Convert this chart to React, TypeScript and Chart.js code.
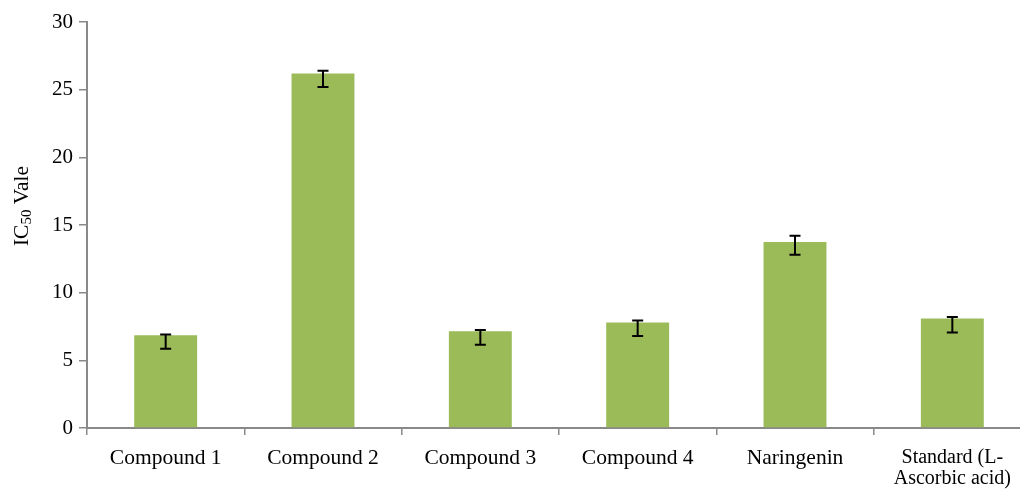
import React, { useEffect, useRef } from "react";
import { Chart, registerables } from "chart.js";

Chart.register(...registerables);

const categories: (string | string[])[] = [
  "Compound 1",
  "Compound 2",
  "Compound 3",
  "Compound 4",
  "Naringenin",
  ["Standard (L-", "Ascorbic acid)"],
];
const values = [6.85, 26.2, 7.15, 7.8, 13.75, 8.1];
const errorLow = [5.85, 25.2, 6.15, 6.8, 12.8, 7.05];
const errorHigh = [6.9, 26.4, 7.25, 7.95, 14.2, 8.2];
const yTicks = [0, 5, 10, 15, 20, 25, 30];

const FONT = "'Liberation Serif', 'Times New Roman', serif";
const AXIS = "#898989";

export default function App() {
  const ref = useRef<HTMLCanvasElement>(null);

  useEffect(() => {
    const canvas = ref.current;
    if (!canvas) return;

    const errorBars = {
      id: "errorBars",
      afterDatasetsDraw(chart: any) {
        const ctx = chart.ctx;
        const meta = chart.getDatasetMeta(0);
        const y = chart.scales.y;
        ctx.save();
        ctx.strokeStyle = "#000";
        ctx.lineWidth = 2;
        meta.data.forEach((bar: any, i: number) => {
          const x = bar.x;
          const y1 = y.getPixelForValue(errorHigh[i]);
          const y2 = y.getPixelForValue(errorLow[i]);
          const cap = 5.5;
          ctx.beginPath();
          ctx.moveTo(x, y1);
          ctx.lineTo(x, y2);
          ctx.moveTo(x - cap, y1);
          ctx.lineTo(x + cap, y1);
          ctx.moveTo(x - cap, y2);
          ctx.lineTo(x + cap, y2);
          ctx.stroke();
        });
        ctx.restore();
      },
    };

    const yTitle = {
      id: "yTitle",
      afterDraw(chart: any) {
        const ctx = chart.ctx;
        const cy = 206;
        const cx = 22;
        const big = `21.5px ${FONT}`;
        const small = `15px ${FONT}`;
        ctx.save();
        ctx.font = big;
        const w1 = ctx.measureText("IC").width;
        const w3 = ctx.measureText(" Vale").width;
        ctx.font = small;
        const w2 = ctx.measureText("50").width;
        const total = w1 + w2 + w3;
        ctx.translate(cx, cy);
        ctx.rotate(-Math.PI / 2);
        ctx.fillStyle = "#000";
        ctx.textBaseline = "middle";
        ctx.textAlign = "left";
        let x = -total / 2;
        ctx.font = big;
        ctx.fillText("IC", x, 0);
        x += w1;
        ctx.font = small;
        ctx.fillText("50", x, 5);
        x += w2;
        ctx.font = big;
        ctx.fillText(" Vale", x, 0);
        ctx.restore();
      },
    };

    const chart = new Chart(canvas, {
      type: "bar",
      data: {
        labels: categories as any,
        datasets: [
          {
            data: values,
            backgroundColor: "#9BBB59",
            borderWidth: 0,
            barPercentage: 0.4,
            categoryPercentage: 1,
          },
        ],
      },
      options: {
        responsive: false,
        animation: false,
        layout: { padding: { top: 22, right: 9, bottom: 0, left: 0 } },
        plugins: {
          legend: { display: false },
          tooltip: { enabled: false },
          title: { display: false },
        },
        scales: {
          x: {
            offset: true,
            grid: {
              offset: true,
              drawOnChartArea: false,
              drawTicks: true,
              tickLength: 7,
              color: AXIS,
              lineWidth: 1.5,
            },
            border: { display: true, color: AXIS, width: 2 },
            ticks: {
              color: "#000",
              padding: 12,
              maxRotation: 0,
              autoSkip: false,
              font: (c: any) => ({
                family: FONT,
                size: c.index === 5 ? 20 : 21.5,
                lineHeight: 1.05,
              }),
            },
            afterFit(scale: any) {
              scale.height = 69;
            },
          },
          y: {
            min: 0,
            max: 30,
            afterBuildTicks(scale: any) {
              scale.ticks = yTicks.map((v) => ({ value: v }));
            },
            grid: {
              drawOnChartArea: false,
              drawTicks: true,
              tickLength: 8,
              color: AXIS,
              lineWidth: 1.5,
            },
            border: { display: true, color: AXIS, width: 2 },
            ticks: {
              color: "#000",
              padding: 6,
              font: { family: FONT, size: 21 },
            },
            afterFit(scale: any) {
              scale.width = 87;
            },
          },
        },
      },
      plugins: [errorBars, yTitle],
    });

    return () => chart.destroy();
  }, []);

  return (
    <div
      style={{
        position: "fixed",
        left: 0,
        top: 0,
        width: 1020,
        height: 497,
        overflow: "hidden",
        background: "#fff",
      }}
    >
      <canvas
        ref={ref}
        width={1040}
        height={497}
        style={{ display: "block", width: 1040, height: 497 }}
      />
    </div>
  );
}
